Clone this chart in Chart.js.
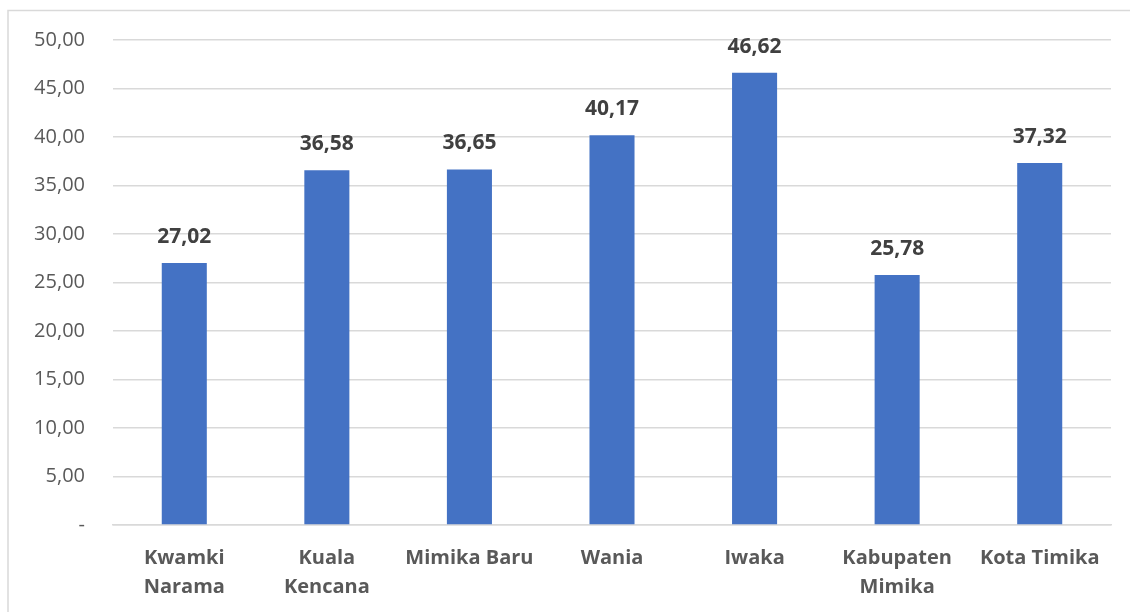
<!DOCTYPE html>
<html>
<head>
<meta charset="utf-8">
<script src="https://cdn.jsdelivr.net/npm/chart.js@4"></script>
<style>
  html, body { margin: 0; padding: 0; background: #fff; }
  #wrap { width: 1130px; height: 612px; position: relative; }
</style>
</head>
<body>
<div id="wrap"><canvas id="myChart" width="1130" height="612"></canvas></div>
<script>
// data
const categories = [
  ['Kwamki', 'Narama'],
  ['Kuala', 'Kencana'],
  'Mimika Baru',
  'Wania',
  'Iwaka',
  ['Kabupaten', 'Mimika'],
  'Kota Timika'
];
const values = [27.02, 36.58, 36.65, 40.17, 46.62, 25.78, 37.32];
const yTicks = [0, 5, 10, 15, 20, 25, 30, 35, 40, 45, 50];

function fmt(v) {
  if (v === 0) return '-';
  return v.toFixed(2).replace('.', ',');
}

// light frame round the whole chart
const framePlugin = {
  id: 'frame',
  beforeDraw(chart) {
    const ctx = chart.ctx;
    ctx.save();
    ctx.strokeStyle = '#d9d9d9';
    ctx.lineWidth = 1.5;
    ctx.strokeRect(8, 10.5, 1140, 620);
    ctx.restore();
  }
};

// value labels over each bar
const valueLabels = {
  id: 'valueLabels',
  afterDatasetsDraw(chart) {
    const ctx = chart.ctx;
    const meta = chart.getDatasetMeta(0);
    ctx.save();
    ctx.font = 'bold 21px "Open Sans"';
    ctx.fillStyle = '#404040';
    ctx.textAlign = 'center';
    ctx.textBaseline = 'middle';
    meta.data.forEach((bar, i) => {
      ctx.fillText(fmt(values[i]), bar.x, bar.y - 26);
    });
    ctx.restore();
  }
};

const ctx = document.getElementById('myChart');
new Chart(ctx, {
  type: 'bar',
  data: {
    labels: categories,
    datasets: [{
      data: values,
      backgroundColor: '#4472c4',
      borderWidth: 0,
      categoryPercentage: 1,
      barPercentage: 0.316
    }]
  },
  options: {
    responsive: false,
    animation: false,
    layout: { padding: { top: 40, right: 19, left: 0, bottom: 0 } },
    plugins: {
      legend: { display: false },
      tooltip: { enabled: false }
    },
    scales: {
      x: {
        grid: { display: false },
        border: { color: '#d9d9d9', width: 1.5 },
        ticks: {
          color: '#595959',
          font: { family: 'Open Sans', size: 20, weight: 'bold', lineHeight: 1.45 },
          padding: 11,
          maxRotation: 0,
          autoSkip: false
        },
        afterFit(scale) { scale.height = 87; }
      },
      y: {
        min: 0,
        max: 50,
        afterBuildTicks(scale) {
          scale.ticks = yTicks.map(v => ({ value: v }));
        },
        grid: { color: '#d9d9d9', lineWidth: 1.5, drawTicks: false },
        border: { display: false },
        ticks: {
          color: '#595959',
          font: { family: 'Open Sans', size: 20 },
          padding: 28,
          callback: (v) => fmt(v)
        },
        afterFit(scale) { scale.width = 113; }
      }
    }
  },
  plugins: [framePlugin, valueLabels]
});
</script>
</body>
</html>
